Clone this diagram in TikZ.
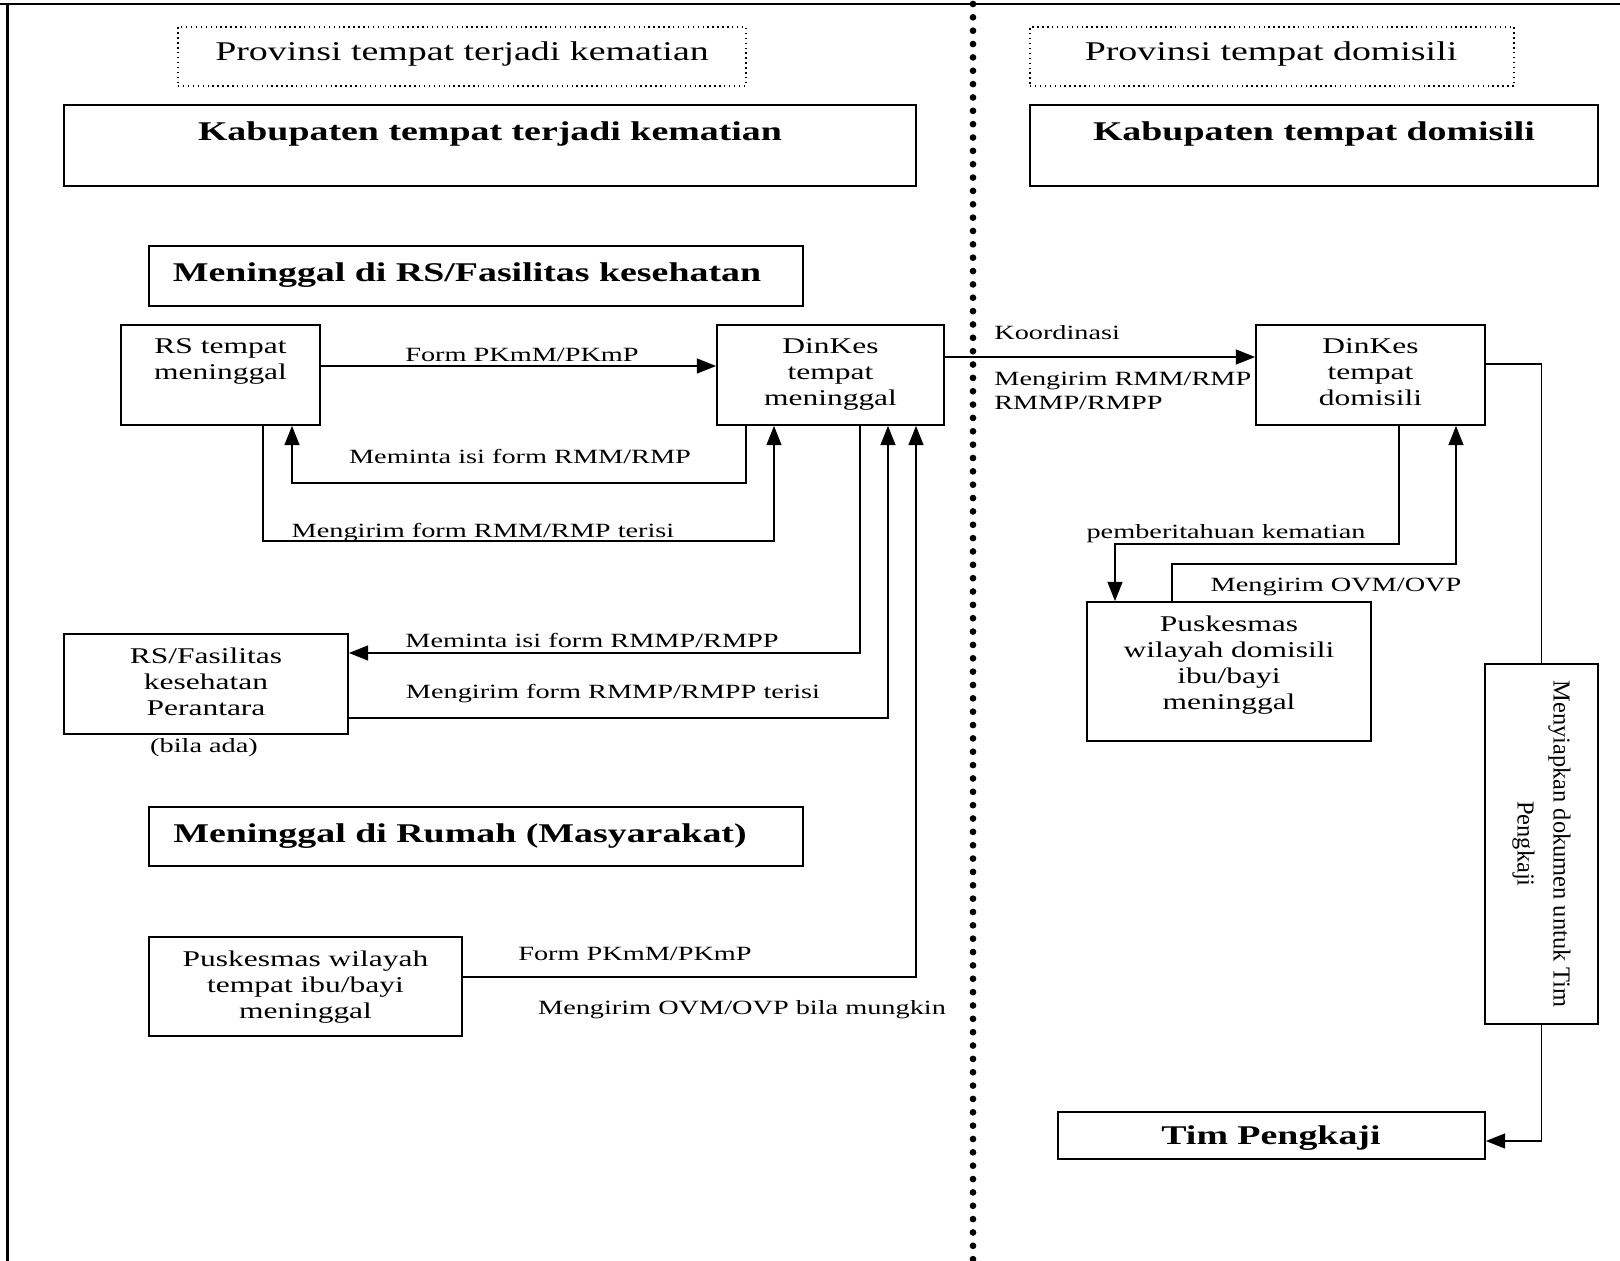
\documentclass[tikz,border=0pt]{standalone}
\usepackage{fontspec}
\setmainfont{Liberation Serif}[FakeStretch=1.4]
\newfontfamily\uprightserif{Liberation Serif}
\usetikzlibrary{arrows.meta,fit,positioning}

\tikzset{
  box/.style={draw, line width=1pt, inner sep=0pt},
  frame/.style={draw, dotted, line width=0.8pt, inner sep=0pt},
  boxtext/.style={align=center, inner sep=0pt, font=\fontsize{12.8}{14.7}\selectfont},
  labeltext/.style={inner sep=0pt, font=\fontsize{11.5}{13.2}\selectfont},
  headtext/.style={inner sep=0pt, font=\fontsize{15.4}{18}\selectfont\bfseries},
  provtext/.style={inner sep=0pt, font=\fontsize{15.4}{18}\selectfont},
  flow/.style={line width=1pt, -{Triangle[length=11pt,width=8.5pt]}},
  link/.style={line width=1pt},
}

\begin{document}
\begin{tikzpicture}[x=0.02cm, y=-0.02cm]
  \useasboundingbox (0,0) rectangle (1620,1261);

  % page frame and province separator
  \draw[line width=1.2pt] (0,4) -- (1620,4);
  \draw[line width=1.2pt] (7.5,4) -- (7.5,1261);
  \draw[line width=3.8pt, line cap=round, dash pattern=on 0pt off 7.6pt] (973,4) -- (973,1261);

  % headers
  \node[frame, fit={(178,27) (746,86)}] (provL) {};
  \node[provtext] (provLT) at (462,54) {Provinsi tempat terjadi kematian};
  \node[frame, fit={(1030,27) (1514,86)}] (provR) {};
  \node[provtext] (provRT) at (1271,54) {Provinsi tempat domisili};
  \node[box, fit={(64,105) (916,186)}] (kabL) {};
  \node[headtext] (kabLT) at (490,134) {Kabupaten tempat terjadi kematian};
  \node[box, fit={(1030,105) (1598,186)}] (kabR) {};
  \node[headtext] (kabRT) at (1314,134) {Kabupaten tempat domisili};
  \node[box, fit={(149,246) (803,306)}] (hospHead) {};
  \node[headtext] (hospHeadT) at (467,275) {Meninggal di RS/Fasilitas kesehatan};
  \node[box, fit={(149,807) (803,866)}] (homeHead) {};
  \node[headtext] (homeHeadT) at (460,836) {Meninggal di Rumah (Masyarakat)};

  % left side boxes
  \node[box, fit={(121,325) (320,425)}] (rs) {};
  \node[boxtext, below=0.29cm of rs.north] (rsT) {RS tempat\\meninggal};
  \node[box, fit={(717,325) (944,425)}] (dinL) {};
  \node[boxtext, below=0.29cm of dinL.north] (dinLT) {DinKes\\tempat\\meninggal};
  \node[box, fit={(64,634) (348,734)}] (rsf) {};
  \node[boxtext, below=0.29cm of rsf.north] (rsfT) {RS/Fasilitas\\kesehatan\\Perantara};
  \node[labeltext] (bila) at (204,748) {(bila ada)};
  \node[box, fit={(149,937) (462,1036)}] (pkmL) {};
  \node[boxtext, below=0.29cm of pkmL.north] (pkmLT) {Puskesmas wilayah\\tempat ibu/bayi\\meninggal};

  % right side boxes
  \node[box, fit={(1256,325) (1485,425)}] (dinR) {};
  \node[boxtext, below=0.29cm of dinR.north] (dinRT) {DinKes\\tempat\\domisili};
  \node[box, fit={(1087,602) (1371,741)}] (pkmR) {};
  \node[boxtext, below=0.29cm of pkmR.north] (pkmRT) {Puskesmas\\wilayah domisili\\ibu/bayi\\meninggal};
  \node[box, fit={(1485,664) (1598,1024)}] (siap) {};
  \node[rotate=-90, align=center, inner sep=0pt, font=\uprightserif\fontsize{13.9}{20.5}\selectfont] (siapT) at (siap.center) {Menyiapkan dokumen untuk Tim\\Pengkaji};
  \node[box, fit={(1058,1112) (1485,1159)}] (tim) {};
  \node[headtext] (timT) at (1271,1138) {Tim Pengkaji};

  % flows in the province of death
  \draw[flow] (rs.east |- 0,366) -- (dinL.west |- 0,366);
  \node[labeltext] (lForm) at (522,355) {Form PKmM/PKmP};
  \draw[flow] (dinL.south -| 746,0) |- (292,483) -- (rs.south -| 292,0);
  \node[labeltext] (lMinta) at (520,456) {Meminta isi form RMM/RMP};
  \draw[flow] (rs.south -| 263,0) |- (774,541) -- (dinL.south -| 774,0);
  \node[labeltext] (lKirim) at (483,533) {Mengirim form RMM/RMP terisi};
  \draw[flow] (dinL.south -| 860,0) |- (rsf.east |- 0,653);
  \node[labeltext] (lMintaP) at (592,640) {Meminta isi form RMMP/RMPP};
  \draw[flow] (rsf.east |- 0,718) -| (dinL.south -| 888,0);
  \node[labeltext] (lKirimP) at (613,694) {Mengirim form RMMP/RMPP terisi};
  \draw[flow] (pkmL.east |- 0,977) -| (dinL.south -| 916,0);
  \node[labeltext] (lFormP) at (635,954) {Form PKmM/PKmP};
  \node[labeltext] (lOvm) at (742,1010) {Mengirim OVM/OVP bila mungkin};

  % flows in the province of residence
  \draw[flow] (dinL.east |- 0,357) -- (dinR.west |- 0,357);
  \node[labeltext, anchor=west] (lKoord) at (994,333) {Koordinasi};
  \node[labeltext, anchor=west, align=left] (lRmm) at (994,391) {Mengirim RMM/RMP\\RMMP/RMPP};
  \draw[flow] (dinR.south -| 1399,0) |- (1115,544) -- (pkmR.north -| 1115,0);
  \node[labeltext] (lBeri) at (1226,534) {pemberitahuan kematian};
  \draw[flow] (pkmR.north -| 1172,0) |- (1456,564) -- (dinR.south -| 1456,0);
  \node[labeltext] (lOvmR) at (1336,587) {Mengirim OVM/OVP};
  \draw[link] (dinR.east |- 0,364) -| (siap.north);
  \draw[flow] (siap.south) |- (tim.east |- 0,1141);
\end{tikzpicture}
\end{document}
